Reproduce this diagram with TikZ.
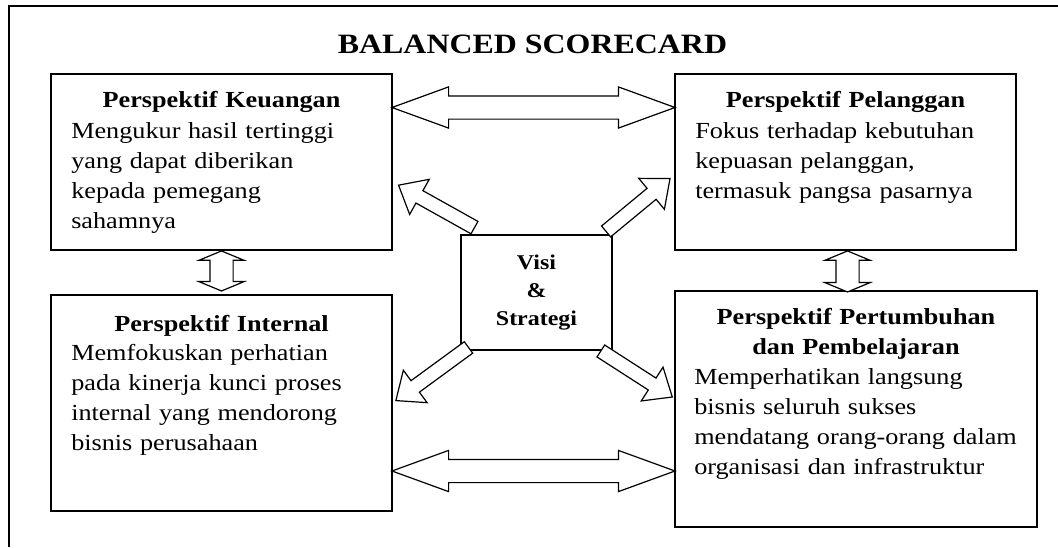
\documentclass[tikz,border=0pt]{standalone}
\usepackage{fontspec}
\setmainfont{Liberation Serif}[FakeStretch=1.14]
\usetikzlibrary{shapes.arrows,calc}

\tikzset{
  kotak/.style={draw, line width=1.9pt, inner sep=0pt},
  judul/.style={inner sep=0pt, text width=340pt, align=center, anchor=base, font=\bfseries\fontsize{23}{30}\selectfont},
  isi/.style={inner sep=0pt, text width=340pt, align=left, anchor=base west, font=\fontsize{23}{30}\selectfont},
  panah/.style={double arrow, draw, fill=white, line width=1.2pt, inner xsep=0pt, inner ysep=11pt},
  miring/.style={single arrow, draw, fill=white, line width=1.2pt, inner xsep=0pt, inner ysep=6.5pt, single arrow head extend=13pt, single arrow tip angle=80},
}

\begin{document}
\begin{tikzpicture}[x=1pt,y=-1pt]
  \useasboundingbox (0,0) rectangle (1058,547);
  \draw[line width=1.9pt] (9,547) -- (9,6) -- (1058,6); % bingkai
  \node[anchor=base, font=\bfseries\fontsize{28}{33}\selectfont] (Judul) at(532.5,53){BALANCED SCORECARD};
  % kotak
  \node[kotak, minimum width=341pt, minimum height=176pt] (Keu) at(221.5,162){};
  \node[kotak, minimum width=341pt, minimum height=176pt] (Pel) at(845.5,162){};
  \node[kotak, minimum width=341pt, minimum height=216pt] (Int) at(221.5,403){};
  \node[kotak, minimum width=362pt, minimum height=236pt] (Tum) at(856,409){};
  \node[kotak, line width=1.6pt, minimum width=151pt, minimum height=115pt, align=center, font=\bfseries\fontsize{21}{28}\selectfont] (Visi) at(536.5,292.5){Visi\\\&\\Strategi};
  % teks
  \node[judul] (KeuJ) at($(Keu.north)+(0,34)$){Perspektif Keuangan};
  \node[isi] (KeuT) at($(Keu.north west)+(21,65)$){Mengukur hasil tertinggi\\yang dapat diberikan\\kepada pemegang\\sahamnya};
  \node[judul] (PelJ) at($(Pel.north)+(0,34)$){Perspektif Pelanggan};
  \node[isi] (PelT) at($(Pel.north west)+(21,65)$){Fokus terhadap kebutuhan\\kepuasan pelanggan,\\termasuk pangsa pasarnya};
  \node[judul] (IntJ) at($(Int.north)+(0,37)$){Perspektif Internal};
  \node[isi] (IntT) at($(Int.north west)+(21,66)$){Memfokuskan perhatian\\pada kinerja kunci proses\\internal yang mendorong\\bisnis perusahaan};
  \node[judul] (TumJ) at($(Tum.north)+(0,34)$){Perspektif Pertumbuhan\\dan Pembelajaran};
  \node[isi] (TumT) at($(Tum.north west)+(20,94)$){Memperhatikan langsung\\bisnis seluruh sukses\\mendatang orang-orang dalam\\organisasi dan infrastruktur};
  % panah dua arah
  \node[panah, minimum height=283pt, double arrow head extend=9pt, double arrow tip angle=40] (PAtas) at($(Keu.east)!.5!(Pel.west)+(0,-54.5)$){};
  \node[panah, minimum height=283pt, double arrow head extend=9pt, double arrow tip angle=40] (PBawah) at($(Int.east)!.5!(Tum.west)+(0,65)$){};
  \node[panah, rotate=90, minimum height=40pt, double arrow head extend=11pt, double arrow tip angle=135] (PKiri) at($(Keu.south)+(0,20)$){};
  \node[panah, rotate=90, minimum height=41pt, double arrow head extend=11pt, double arrow tip angle=135] (PKanan) at($(Pel.south)+(2,20.5)$){};
  % panah dari visi
  \node[miring, minimum height=87pt, rotate=150.8] (P1) at($(Visi.north west)+(-20,-25.75)$){};
  \node[miring, minimum height=83pt, rotate=39.6] (P2) at($(Visi.north east)+(22,-26.5)$){};
  \node[miring, minimum height=90pt, rotate=216.2] (P3) at($(Visi.south west)+(-24.6,20.7)$){};
  \node[miring, minimum height=85pt, rotate=-32.8] (P4) at($(Visi.south east)+(20.2,20.9)$){};
\end{tikzpicture}
\end{document}
